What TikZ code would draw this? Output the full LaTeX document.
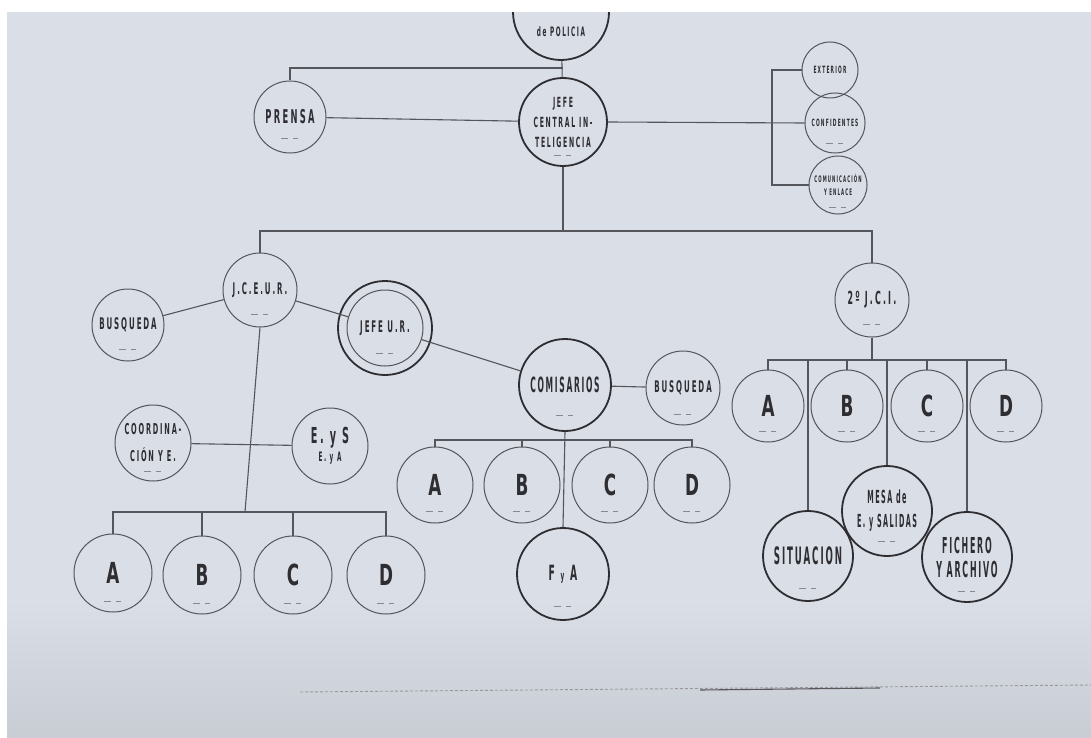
\documentclass[tikz,border=0pt]{standalone}
\usepackage{fontspec}
\usetikzlibrary{calc}
\newfontfamily\labf[FakeStretch=0.44,LetterSpace=12]{DejaVu Sans}
\newfontfamily\tallf[FakeStretch=0.36,LetterSpace=8]{DejaVu Sans}
\newfontfamily\bigf[FakeStretch=0.58]{DejaVu Sans}
\definecolor{paper}{RGB}{218,222,230}
\definecolor{ink}{RGB}{45,45,50}
\definecolor{inkl}{RGB}{85,85,92}
\tikzset{
  unit/.style={circle, draw=inkl, line width=1pt, inner sep=0pt, minimum size=#1, align=center, text=ink,
    font=\labf\bfseries\fontsize{16}{20}\selectfont},
  unit/.default=76pt,
  strong/.style={unit=#1, draw=ink, line width=1.8pt},
  strong/.default=90pt,
  link/.style={draw=inkl, line width=1.1pt},
  blank/.style={draw=inkl!70, line width=0.8pt},
  letter/.style={font=\bigf\bfseries\fontsize{29}{29}\selectfont},
  tall/.style={font=\tallf\bfseries\fontsize{#1}{24}\selectfont},
}
\begin{document}
\begin{tikzpicture}[x=1pt,y=-1pt]
\useasboundingbox (0,0) rectangle (1091,738);
\clip (0,0) rectangle (1091,738);
\fill[paper] (0,0) rectangle (1091,738);
\shade[top color=paper, bottom color=paper!92!black] (0,600) rectangle (1091,738);

% top level
\node[strong=96pt] (top) at (561,12) {};
\node[text=ink, font=\labf\bfseries\fontsize{13}{14}\selectfont] (toptxt) at (561,32) {de POLICIA};
\node[unit=72pt, font=\labf\bfseries\fontsize{19}{20}\selectfont] (prensa) at (290,117) {PRENSA};
\node[strong=88pt, font=\labf\bfseries\fontsize{14}{20}\selectfont] (jefe) at (563,122) {JEFE\\CENTRAL IN-\\TELIGENCIA};
\node[unit=56pt, font=\labf\bfseries\fontsize{10}{12}\selectfont] (ext) at (830,70) {EXTERIOR};
\node[unit=60pt, font=\labf\bfseries\fontsize{10}{12}\selectfont] (conf) at (835,123) {CONFIDENTES};
\node[unit=58pt, font=\labf\bfseries\fontsize{9}{13}\selectfont] (comb) at (838,185) {COMUNICACIÓN\\Y ENLACE};

\coordinate (j1) at (563,68);
\coordinate (rt) at (772,70);
\coordinate (rbm) at (772,185);
\coordinate (mb) at (563,231);
\draw[link] (top) -- (jefe);
\draw[link] (prensa.north) |- (j1);
\draw[link] (prensa) -- (jefe);
\draw[link] (jefe.east) -- (conf.west);
\draw[link] (ext.west) -- (rt) -- (rbm) -- (comb.west);
\draw[link] (jefe.south) -- (mb);

% left branch
\node[unit=74pt] (jceur) at (260,290) {J.C.E.U.R.};
\node[unit=72pt] (busq1) at (128,325) {BUSQUEDA};
\node[unit=76pt] (jefeur) at (385,328) {JEFE U.R.};
\draw[ink, line width=1.8pt] (jefeur.center) circle (47);
\node[strong=92pt, tall=21] (comis) at (565,385) {COMISARIOS};
\node[unit=74pt] (busq2) at (683,388) {BUSQUEDA};
\draw[link] (jceur.north) |- (mb);
\draw[link] (busq1) -- (jceur);
\draw[link] (jceur) -- (jefeur);
\draw[link] (jefeur) -- (comis);
\draw[link] (comis) -- (busq2);

\node[unit=76pt, letter] (cA) at (435,485) {A};
\node[unit=76pt, letter] (cB) at (522,485) {B};
\node[unit=76pt, letter] (cC) at (610,485) {C};
\node[unit=76pt, letter] (cD) at (692,485) {D};
\node[strong=92pt, font=\labf\bfseries\fontsize{21}{21}\selectfont] (fya) at (563,574) {F {\fontsize{13}{13}\selectfont y} A};
\coordinate (cb) at (563,440);
\draw[link] (comis.south) -- (fya.north);
\draw[link] (cA.north) |- (cb) -| (cD.north);
\draw[link] (cB.north) -- (cB.north |- cb);
\draw[link] (cC.north) -- (cC.north |- cb);

\node[unit=76pt, font=\labf\bfseries\fontsize{15}{27}\selectfont] (coord) at (153,443) {COORDINA-\\CIÓN Y E.};
\node[unit=76pt] (eys) at (330,446) {{\fontsize{22}{22}\selectfont E. y S}\\[-2pt]{\fontsize{13}{13}\selectfont E. y A}};
\node[unit=78pt, letter] (lA) at (113,573) {A};
\node[unit=78pt, letter] (lB) at (202,575) {B};
\node[unit=78pt, letter] (lC) at (293,575) {C};
\node[unit=78pt, letter] (lD) at (386,575) {D};
\coordinate (lb) at (245,512);
\draw[link] (jceur.south) -- (lb);
\draw[link] (coord) -- (eys);
\draw[link] (lA.north) |- (lb) -| (lD.north);
\draw[link] (lB.north) -- (lB.north |- lb);
\draw[link] (lC.north) -- (lC.north |- lb);

% right branch
\node[unit=74pt, font=\labf\bfseries\fontsize{18}{20}\selectfont] (jci) at (872,300) {2º J.C.I.};
\draw[link] (mb) -| (jci.north);
\node[unit=72pt, letter] (jA) at (768,406) {A};
\node[unit=72pt, letter] (jB) at (847,406) {B};
\node[unit=72pt, letter] (jC) at (927,406) {C};
\node[unit=72pt, letter] (jD) at (1006,406) {D};
\node[strong=90pt, tall=24] (sit) at (808,556) {SITUACION};
\node[strong=90pt, tall=18] (mesa) at (887,511) {MESA de\\E. y SALIDAS};
\node[strong=90pt, tall=22] (fich) at (967,557) {FICHERO\\Y ARCHIVO};
\coordinate (jb) at (872,360);
\draw[link] (jci.south) -- (jb);
\draw[link] (jA.north) |- (jb) -| (jD.north);
\draw[link] (jB.north) -- (jB.north |- jb);
\draw[link] (jC.north) -- (jC.north |- jb);
\draw[link] (sit.north) -- (sit.north |- jb);
\draw[link] (mesa.north) -- (mesa.north |- jb);
\draw[link] (fich.north) -- (fich.north |- jb);

% blank name lines under each unit
\foreach \n/\d in {prensa/21, jefe/33, conf/20, comb/22, jceur/24, busq1/24, jefeur/25, comis/30, busq2/26,
  cA/26, cB/26, cC/26, cD/26, fya/32, coord/28, lA/28, lB/28, lC/28, lD/28, jci/24, jA/25, jB/25, jC/25, jD/25,
  sit/32, mesa/30, fich/34} {
  \draw[blank] ($(\n.center)+(-9,\d)$) -- ++(7,0);
  \draw[blank] ($(\n.center)+(3,\d)$) -- ++(5,0);
}

% faint ruled line at the bottom
\draw[inkl!60, line width=0.9pt, dash pattern=on 3pt off 2pt] (300,692) -- (1091,685);
\draw[ink!80, line width=1.1pt] (700,690) -- (880,688);

% white margins of the photograph (top and left)
\fill[white] (0,0) rectangle (1091,12);
\fill[white] (0,0) rectangle (7,738);
\end{tikzpicture}
\end{document}
